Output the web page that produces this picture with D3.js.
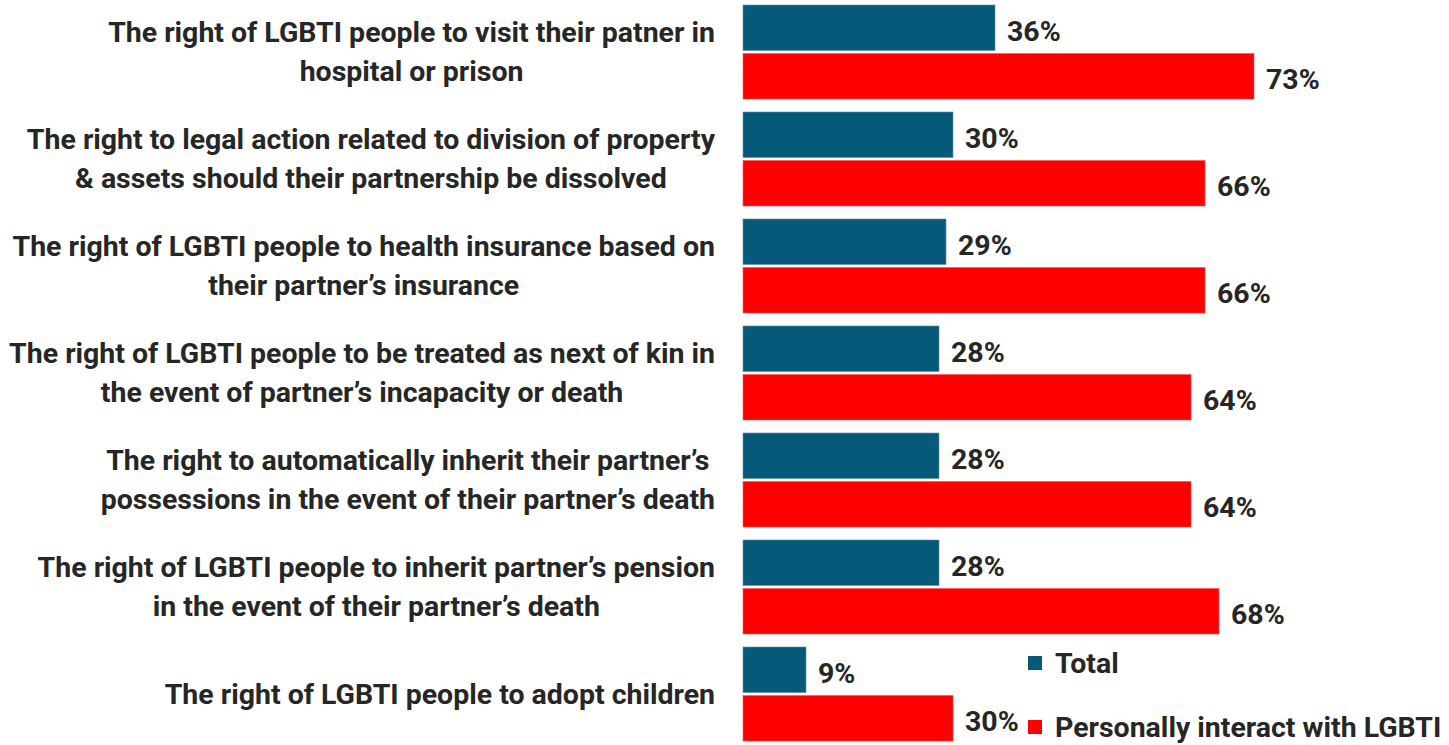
<!DOCTYPE html>
<html><head><meta charset="utf-8">
<script src="https://cdn.jsdelivr.net/npm/d3@7"></script>
<style>
html,body{margin:0;padding:0;background:#fff;overflow:hidden;}
svg{display:block;font-family:Roboto,Lato,sans-serif;font-weight:bold;}
</style></head>
<body>
<svg id="chart" width="1449" height="745"></svg>
<script>
const categories = [
  ["The right of LGBTI people to visit their patner in", "hospital or prison"],
  ["The right to legal action related to division of property", "& assets should their partnership be dissolved"],
  ["The right of LGBTI people to health insurance based on", "their partner\u2019s insurance"],
  ["The right of LGBTI people to be treated as next of kin in", "the event of partner\u2019s incapacity or death"],
  ["The right to automatically inherit their partner\u2019s", "possessions in the event of their partner\u2019s death"],
  ["The right of LGBTI people to inherit partner\u2019s pension", "in the event of their partner\u2019s death"],
  ["The right of LGBTI people to adopt children"]
];
const seriesNames = ["Total", "Personally interact with LGBTI"];
const totalValues = [36, 30, 29, 28, 28, 28, 9];
const interactValues = [73, 66, 66, 64, 64, 68, 30];
const seriesColors = ["#045A78", "#FF0000"];

const svg = d3.select("#chart");
const keys = categories.map((c, i) => "c" + i);
const values = [totalValues, interactValues];

// fit font size so the first label line matches the reference width
const probe = svg.append("text").attr("font-size", 24).text(categories[0][0]);
const fs = 24 * 607 / probe.node().getComputedTextLength();
probe.remove();

const y0 = d3.scaleBand().domain(keys).range([-1.5, 747.5]).paddingInner(13/107).paddingOuter(6.5/107);
const y1 = d3.scaleBand().domain(seriesNames).range([0, y0.bandwidth()]).paddingInner(3/48.5);
const x = d3.scaleLinear().domain([0, 100]).range([743, 1443]);
const textColor = "#262626";

const g = svg.append("g");
keys.forEach((k, i) => {
  seriesNames.forEach((s, j) => {
    const v = values[j][i];
    const yy = y0(k) + y1(s);
    g.append("rect")
      .attr("x", x(0)).attr("y", yy)
      .attr("width", x(v) - x(0)).attr("height", y1.bandwidth())
      .attr("fill", seriesColors[j])
      .attr("stroke", j === 0 ? "#5f8fa3" : "#ff5050").attr("stroke-width", 0.6);
    g.append("text")
      .attr("x", x(v) + 12).attr("y", yy + y1.bandwidth() / 2 + 3)
      .attr("dy", "0.35em")
      .attr("font-size", fs).attr("fill", textColor)
      .text(v + "%");
  });
  const lines = categories[i];
  const cy = y0(k) + y0.bandwidth() / 2;
  const lh = 39;
  const t = g.append("text").attr("font-size", fs).attr("fill", textColor).attr("text-anchor", "middle");
  const tspans = lines.map((ln, li) => t.append("tspan")
      .attr("y", cy + (li - (lines.length - 1) / 2) * lh)
      .attr("dy", "0.35em").text(ln));
  const widths = tspans.map(ts => ts.node().getComputedTextLength());
  const maxW = d3.max(widths);
  tspans.forEach(ts => ts.attr("x", 715 - maxW / 2));
});

const legY = [663, 727];
seriesNames.forEach((s, j) => {
  svg.append("rect").attr("x", 1028).attr("y", legY[j] - 7).attr("width", 14).attr("height", 14).attr("fill", seriesColors[j]);
  svg.append("text").attr("x", 1055).attr("y", legY[j]).attr("dy", "0.35em")
    .attr("font-size", fs).attr("fill", textColor).text(s);
});
</script>
</body></html>
